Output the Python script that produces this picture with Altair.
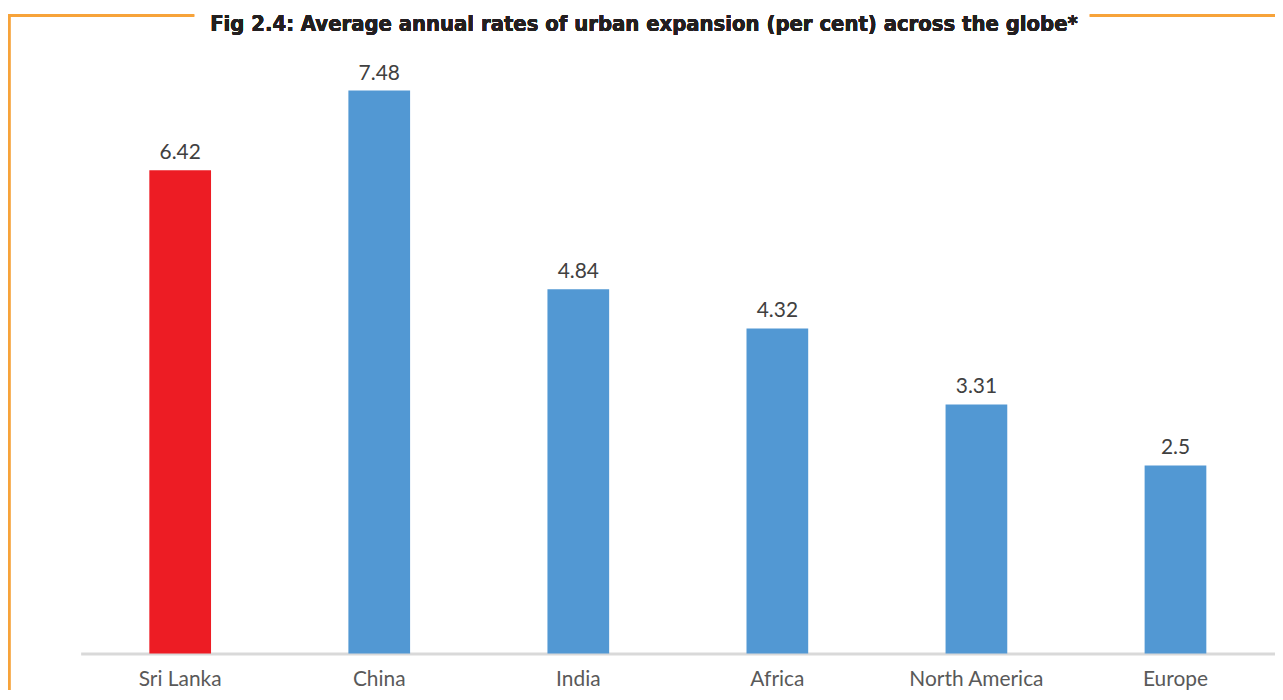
import altair as alt
import pandas as pd

categories = ["Sri Lanka", "China", "India", "Africa", "North America", "Europe"]
values = [6.42, 7.48, 4.84, 4.32, 3.31, 2.5]
labels = ["6.42", "7.48", "4.84", "4.32", "3.31", "2.5"]
colors = ["#ED1C24", "#5298D3", "#5298D3", "#5298D3", "#5298D3", "#5298D3"]

df = pd.DataFrame({"cat": categories, "val": values, "lab": labels, "col": colors})

W, H = 1200, 605
x = alt.X("cat:N", sort=categories, title=None,
          scale=alt.Scale(paddingInner=0.69, paddingOuter=0.345),
          axis=alt.Axis(labelAngle=0, labelFont="Lato", labelFontSize=21, labelColor="#595959",
                        labelPadding=15, ticks=False, domainColor="#D9D9D9", domainWidth=3,
                        grid=False))
y = alt.Y("val:Q", title=None, scale=alt.Scale(domain=[0, 8], nice=False),
          axis=None)

bars = alt.Chart(df).mark_bar().encode(x=x, y=y, color=alt.Color("col:N", scale=None))
text = alt.Chart(df).mark_text(baseline="alphabetic", dy=-11, font="Lato", fontSize=21,
                               color="#404040").encode(x=x, y=y, text="lab:N")

orange = "#F7A33A"
left_line = alt.Chart(df).mark_rule(color=orange, strokeWidth=2.5).encode(
    x=alt.value(-72), y=alt.value(-36), y2=alt.value(H + 60))
top_left = alt.Chart(df).mark_rule(color=orange, strokeWidth=2.5).encode(
    x=alt.value(-73), x2=alt.value(114), y=alt.value(-36))
top_right = alt.Chart(df).mark_rule(color=orange, strokeWidth=2.5).encode(
    x=alt.value(1014), x2=alt.value(1210), y=alt.value(-36))
title = alt.Chart(df).mark_text(font="DejaVu Sans Condensed", fontWeight="bold", fontSize=22,
                                color="#231F20", align="center", baseline="middle").encode(
    x=alt.value(566), y=alt.value(-28), text=alt.value(
        "Fig 2.4: Average annual rates of urban expansion (per cent) across the globe*"))

chart = alt.layer(bars, text, left_line, top_left, top_right, title).properties(
    width=W, height=H,
    background="white",
    padding={"left": 73, "top": 42, "right": 0, "bottom": 35},
    autosize=alt.AutoSizeParams(type="none"),
).configure_view(stroke=None, strokeWidth=0)

chart.save("out.html", embed_options={"renderer": "svg", "actions": False})
